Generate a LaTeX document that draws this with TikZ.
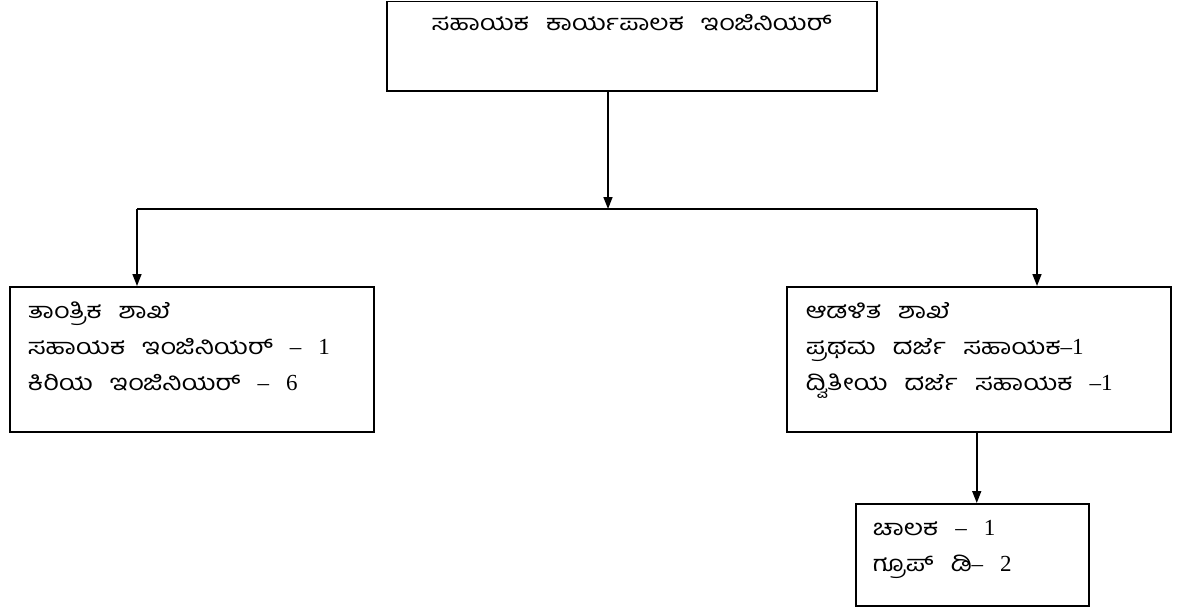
\documentclass[tikz,border=0pt]{standalone}
\usepackage{fontspec}
\setmainfont{Liberation Serif}
\newfontfamily\kannada[Script=Kannada, FakeStretch=1.22]{Hind Mysuru}
\usetikzlibrary{arrows.meta}
\newcommand{\tm}[1]{{\rmfamily\fontsize{23}{36}\selectfont #1}}
\DeclareRobustCommand{\widegaps}{\spaceskip=17pt\relax}

\tikzstyle{office} = [rectangle, draw=black, line width=1.5pt,
    anchor=north west, inner ysep=0pt, text height=32pt,
    font=\kannada\fontsize{22}{36}\selectfont,
    execute at begin node=\widegaps]
\tikzstyle{branch} = [office, align=left, inner xsep=18pt, text depth=113pt]
\tikzstyle{arrow} = [line width=1.5pt, -{Triangle[length=12pt,width=9pt]}]
\tikzstyle{line} = [line width=1.5pt]

\begin{document}
\begin{tikzpicture}[x=1pt, y=-1pt]

        \useasboundingbox (0,0) rectangle (1180,610);

        % Nodes
        \node (chief) [office, align=center, inner xsep=10pt, text width=470pt,
            text height=29pt, text depth=60pt] at (386,1)
            {ಸಹಾಯಕ ಕಾರ್ಯಪಾಲಕ ಇಂಜಿನಿಯರ್};

        \node (tech) [branch, text width=328pt] at (9,286)
            {ತಾಂತ್ರಿಕ ಶಾಖೆ\\
             ಸಹಾಯಕ ಇಂಜಿನಿಯರ್ \tm{– 1}\\
             ಕಿರಿಯ ಇಂಜಿನಿಯರ್ \tm{– 6}};

        \node (admin) [branch, inner xsep=19pt, text width=346pt] at (786,286)
            {ಆಡಳಿತ ಶಾಖೆ\\
             ಪ್ರಥಮ ದರ್ಜೆ ಸಹಾಯಕ\tm{–1}\\
             ದ್ವಿತೀಯ ದರ್ಜೆ ಸಹಾಯಕ \tm{–1}};

        \node (staff) [branch, inner xsep=17pt, text width=199pt, text depth=70pt] at (855,503)
            {ಚಾಲಕ \tm{– 1}\\
             ಗ್ರೂಪ್ ಡಿ\tm{– 2}};

        % Junctions
        \coordinate (split) at (608,209);
        \coordinate (westend) at (137,209);
        \coordinate (eastend) at (1037,209);

        % Arrows
        \draw [arrow] (chief.south -| split) -- (split);
        \draw [line] (westend) -- (eastend);
        \draw [arrow] (westend) -- (westend |- tech.north);
        \draw [arrow] (eastend) -- (eastend |- admin.north);
        \draw [arrow] ([xshift=-2pt]admin.south) -- ([xshift=-2pt]admin.south |- staff.north);

    \end{tikzpicture}
\end{document}
